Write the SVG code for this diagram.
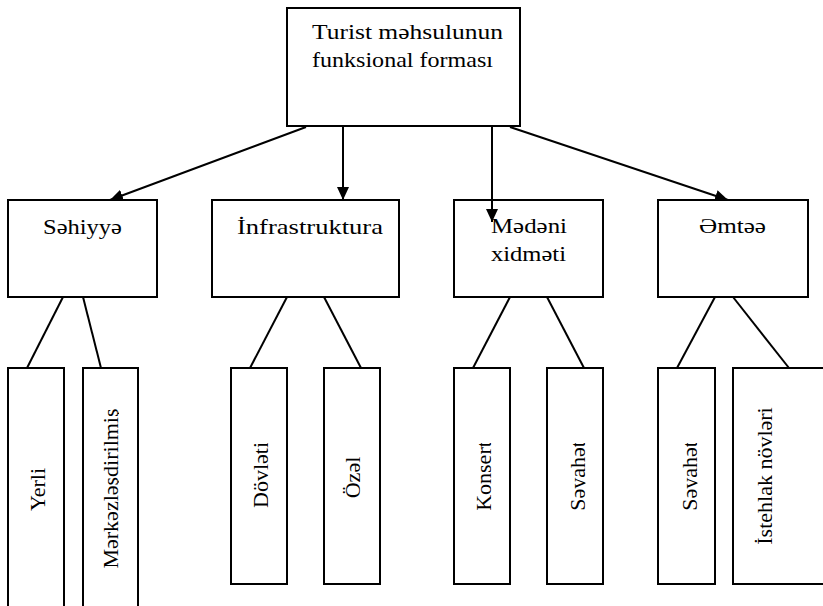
<svg xmlns="http://www.w3.org/2000/svg" width="823" height="606" viewBox="0 0 823 606">
<style>
.box{fill:#fff;stroke:#000;stroke-width:2}
.ln{stroke:#000;stroke-width:2;fill:none}
.t{font-family:"Liberation Serif","DejaVu Serif","Times New Roman",serif;font-size:22px;fill:#000}
.m{text-anchor:middle}
</style>
<defs>
<marker id="ah" markerUnits="userSpaceOnUse" markerWidth="14" markerHeight="12" refX="13" refY="6" orient="auto">
<path d="M0,0 L13,6 L0,12 z" fill="#000"/>
</marker>
<clipPath id="c1"><rect x="8" y="368" width="38" height="240"/></clipPath>
<clipPath id="c2"><rect x="83" y="368" width="36" height="240"/></clipPath>
<clipPath id="c3"><rect x="231" y="443" width="37.5" height="141"/></clipPath>
<clipPath id="c4"><rect x="324" y="443" width="36.5" height="141"/></clipPath>
<clipPath id="c5"><rect x="454" y="443" width="37.5" height="141"/></clipPath>
<clipPath id="c6"><rect x="547" y="443" width="38.5" height="141"/></clipPath>
<clipPath id="c7"><rect x="658" y="443" width="39.5" height="141"/></clipPath>
<clipPath id="c8"><rect x="733" y="368" width="39.5" height="216"/></clipPath>
</defs>

<g id="connectors">
<line class="ln" x1="306" y1="127" x2="110" y2="200" marker-end="url(#ah)"/>
<line class="ln" x1="343" y1="127" x2="343" y2="200" marker-end="url(#ah)"/>
<line class="ln" x1="510" y1="127" x2="728" y2="200" marker-end="url(#ah)"/>
<line class="ln" x1="63" y1="297" x2="27" y2="368"/>
<line class="ln" x1="83" y1="297" x2="101" y2="368"/>
<line class="ln" x1="287" y1="297" x2="250" y2="368"/>
<line class="ln" x1="324" y1="297" x2="361" y2="368"/>
<line class="ln" x1="510" y1="297" x2="473" y2="368"/>
<line class="ln" x1="547" y1="297" x2="584" y2="368"/>
<line class="ln" x1="715" y1="297" x2="677" y2="368"/>
<line class="ln" x1="733" y1="297" x2="789" y2="368"/>
</g>

<g id="root">
<rect class="box" x="287" y="8" width="233" height="118"/>
<text class="t" x="312" y="39" textLength="191" lengthAdjust="spacingAndGlyphs">Turist məhsulunun</text>
<text class="t" x="312" y="67" textLength="181" lengthAdjust="spacingAndGlyphs">funksional forması</text>
</g>

<g id="sehiyye">
<rect class="box" x="8" y="200" width="149" height="97"/>
<text class="t" x="43" y="234" textLength="79" lengthAdjust="spacingAndGlyphs">Səhiyyə</text>
</g>
<g id="infrastruktura">
<rect class="box" x="212" y="200" width="187" height="97"/>
<text class="t" x="237" y="234" textLength="146" lengthAdjust="spacingAndGlyphs">İnfrastruktura</text>
</g>
<g id="medeni">
<rect class="box" x="454" y="200" width="149" height="97"/>
<text class="t" x="491" y="233" textLength="76" lengthAdjust="spacingAndGlyphs">Mədəni</text>
<text class="t" x="491" y="261" textLength="75" lengthAdjust="spacingAndGlyphs">xidməti</text>
</g>
<g id="emtee">
<rect class="box" x="658" y="200" width="150" height="97"/>
<text class="t" x="699" y="233" textLength="67" lengthAdjust="spacingAndGlyphs">Əmtəə</text>
</g>

<g id="arrow-medeni">
<line class="ln" x1="492" y1="127" x2="492" y2="222" marker-end="url(#ah)"/>
</g>

<g id="yerli">
<rect class="box" x="8" y="368" width="56" height="250"/>
<g clip-path="url(#c1)"><text class="t m" transform="translate(45,489.5) rotate(-90)">Yerli</text></g>
</g>
<g id="merkezlesdirilmis">
<rect class="box" x="83" y="368" width="55" height="250"/>
<g clip-path="url(#c2)"><text class="t m" transform="translate(118,488.5) rotate(-90)">Mərkəzləşdirilmiş</text></g>
</g>
<g id="dovleti">
<rect class="box" x="231" y="368" width="56" height="216"/>
<g clip-path="url(#c3)"><text class="t m" transform="translate(267.5,475) rotate(-90)">Dövləti</text></g>
</g>
<g id="ozel">
<rect class="box" x="324" y="368" width="56" height="216"/>
<g clip-path="url(#c4)"><text class="t m" transform="translate(360,477.5) rotate(-90)">Özəl</text></g>
</g>
<g id="konsert">
<rect class="box" x="454" y="368" width="56" height="216"/>
<g clip-path="url(#c5)"><text class="t m" transform="translate(491,476) rotate(-90)">Konsert</text></g>
</g>
<g id="seyahet1">
<rect class="box" x="547" y="368" width="56" height="216"/>
<g clip-path="url(#c6)"><text class="t m" transform="translate(585,476) rotate(-90)">Səyahət</text></g>
</g>
<g id="seyahet2">
<rect class="box" x="658" y="368" width="57" height="216"/>
<g clip-path="url(#c7)"><text class="t m" transform="translate(697,476) rotate(-90)">Səyahət</text></g>
</g>
<g id="istehlak">
<rect class="box" x="733" y="368" width="100" height="216"/>
<g clip-path="url(#c8)"><text class="t m" transform="translate(772,476) rotate(-90)">İstehlak növləri</text></g>
</g>
</svg>
